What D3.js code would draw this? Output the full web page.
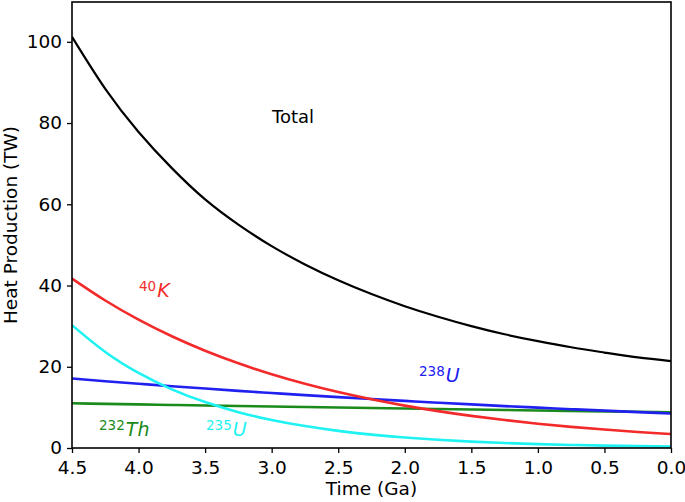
<!DOCTYPE html>
<html>
<head>
<meta charset="utf-8">
<script src="https://cdn.jsdelivr.net/npm/d3@7"></script>
<style>
  html, body { margin: 0; padding: 0; background: #fff; }
  svg { display: block; }
  text { font-family: "DejaVu Sans", sans-serif; }
</style>
</head>
<body>
<svg id="chart" width="685" height="502"></svg>
<script>
// Data (Time in Ga, heat production in TW)
const time   = [4.5, 4.25, 4.0, 3.75, 3.5, 3.25, 3.0, 2.75, 2.5, 2.25, 2.0, 1.75, 1.5, 1.25, 1.0, 0.75, 0.5, 0.25, 0.0];
const total  = [101.2, 88.4, 77.8, 68.9, 61.2, 55.0, 49.7, 45.2, 41.3, 37.9, 34.9, 32.3, 30.0, 28.0, 26.3, 24.8, 23.5, 22.3, 21.4];
const k40    = [41.7, 36.31, 31.61, 27.52, 23.96, 20.86, 18.16, 15.81, 13.76, 11.98, 10.43, 9.08, 7.90, 6.88, 5.99, 5.21, 4.54, 3.95, 3.44];
const u238   = [17.1, 16.43, 15.81, 15.21, 14.63, 14.07, 13.54, 13.02, 12.53, 12.05, 11.59, 11.15, 10.73, 10.32, 9.93, 9.55, 9.19, 8.84, 8.5];
const u235   = [30.24, 23.64, 18.48, 14.44, 11.30, 8.83, 6.90, 5.40, 4.22, 3.30, 2.58, 2.02, 1.58, 1.23, 0.96, 0.75, 0.59, 0.46, 0.36];
const th232  = [11.0, 10.86, 10.73, 10.6, 10.46, 10.34, 10.21, 10.08, 9.96, 9.84, 9.72, 9.6, 9.48, 9.36, 9.25, 9.13, 9.02, 8.91, 8.8];
const xTicks = [4.5, 4.0, 3.5, 3.0, 2.5, 2.0, 1.5, 1.0, 0.5, 0.0];
const yTicks = [0, 20, 40, 60, 80, 100];

const series = [
  { name: "Total", values: total, color: "#000000", width: 2.2 },
  { name: "232Th", values: th232, color: "#1a8a1a", width: 2.6 },
  { name: "238U",  values: u238,  color: "#2020f0", width: 2.6 },
  { name: "235U",  values: u235,  color: "#1ff2f2", width: 2.6 },
  { name: "40K",   values: k40,   color: "#f22a2a", width: 2.6 }
];

const svg = d3.select("#chart");
const L = 72, R = 671, T = 2, B = 448;

const x = d3.scaleLinear().domain([4.5, 0]).range([L, R]);
const y = d3.scaleLinear().domain([0, 109.8]).range([B, T]);

const clipId = "plotclip";
svg.append("defs").append("clipPath").attr("id", clipId)
  .append("rect").attr("x", L).attr("y", T).attr("width", R - L).attr("height", B - T);

const line = d3.line()
  .x((d, i) => x(time[i]))
  .y(d => y(d))
  .curve(d3.curveNatural);

const g = svg.append("g").attr("clip-path", `url(#${clipId})`);
series.forEach(s => {
  g.append("path")
    .attr("d", line(s.values))
    .attr("fill", "none")
    .attr("stroke", s.color)
    .attr("stroke-width", s.width)
    .attr("stroke-linejoin", "round");
});

// Axes
const fs = 18.5;
const xAxis = svg.append("g").attr("transform", `translate(0,${B})`)
  .call(d3.axisBottom(x).tickValues(xTicks).tickFormat(d3.format(".1f")).tickSize(5).tickPadding(8));
const yAxis = svg.append("g").attr("transform", `translate(${L},0)`)
  .call(d3.axisLeft(y).tickValues(yTicks).tickFormat(d3.format("d")).tickSize(5).tickPadding(5));
[xAxis, yAxis].forEach(a => {
  a.select(".domain").remove();
  a.selectAll(".tick line").attr("stroke", "#000").attr("stroke-width", 1.3);
  a.selectAll(".tick text").attr("fill", "#000").style("font-size", fs + "px").style("font-family", "DejaVu Sans");
});

// Frame
svg.append("rect").attr("x", L).attr("y", T).attr("width", R - L).attr("height", B - T)
  .attr("fill", "none").attr("stroke", "#000").attr("stroke-width", 1.6);

// Axis titles
svg.append("text").attr("x", (L + R) / 2).attr("y", 495)
  .attr("text-anchor", "middle").style("font-size", "18.5px").attr("fill", "#000")
  .text("Time (Ga)");
svg.append("text")
  .attr("transform", `translate(17,${(T + B) / 2}) rotate(-90)`)
  .attr("text-anchor", "middle").style("font-size", "18.5px").attr("fill", "#000")
  .text("Heat Production (TW)");

// Curve labels
svg.append("text").attr("x", 272).attr("y", 123).style("font-size", "18px").attr("fill", "#000").text("Total");

function isoLabel(xp, yp, sup, sym, color) {
  const t = svg.append("text").attr("x", xp).attr("y", yp).attr("fill", color);
  t.append("tspan").style("font-size", "13.5px").attr("dy", -6).text(sup);
  t.append("tspan").style("font-size", "19px").style("font-style", "italic").attr("dy", 6).attr("dx", 1).text(sym);
}
isoLabel(139, 297, "40", "K", series[4].color);
isoLabel(99, 436, "232", "Th", series[1].color);
isoLabel(206, 436, "235", "U", series[3].color);
isoLabel(419, 382, "238", "U", series[2].color);
</script>
</body>
</html>
